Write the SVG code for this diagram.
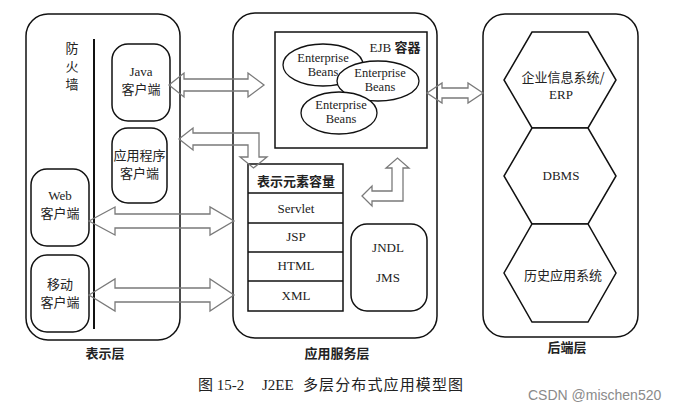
<svg xmlns="http://www.w3.org/2000/svg" width="693" height="411" viewBox="0 0 693 411">
<style>
.panel{fill:none;stroke:#111;stroke-width:1.5}
.box{fill:#fff;stroke:#111;stroke-width:1.5}
.ell{fill:#fff;stroke:#111;stroke-width:1.3}
.arr{fill:none;stroke:#7a7a7a;stroke-width:1.3;stroke-linejoin:miter}
.t{font-family:"Liberation Serif","Noto Sans CJK SC",serif;font-size:13px;fill:#222;text-anchor:middle}
.e{font-family:"Liberation Serif",serif;font-size:12.5px;fill:#222;text-anchor:middle}
.b{font-family:"Noto Sans CJK SC","Liberation Sans",sans-serif;font-size:13px;font-weight:bold;fill:#222;text-anchor:middle}
.c{font-family:"Noto Sans CJK SC","Liberation Sans",sans-serif;font-size:13px;fill:#222;text-anchor:middle}
</style>
<rect width="693" height="411" fill="#fff"/>

<g id="presentation-tier">
<rect class="panel" x="26" y="14" width="154" height="326" rx="22"/>
<text class="b" x="105" y="358">表示层</text>
</g>
<g id="firewall">
<line x1="94" y1="39" x2="94" y2="329" stroke="#111" stroke-width="2"/>
<text class="c" x="72" y="53">防</text>
<text class="c" x="72" y="71">火</text>
<text class="c" x="72" y="89">墙</text>
</g>
<g id="java-client">
<rect class="box" x="112" y="44" width="58" height="77" rx="16"/>
<text class="t" x="141" y="76">Java</text>
<text class="c" x="141" y="94">客户端</text>
</g>
<g id="app-client">
<rect class="box" x="112" y="128" width="55" height="75" rx="16"/>
<text class="c" x="139.5" y="160">应用程序</text>
<text class="c" x="139.5" y="178">客户端</text>
</g>
<g id="web-client">
<rect class="box" x="31" y="169" width="58" height="77" rx="16"/>
<text class="t" x="60" y="200">Web</text>
<text class="c" x="60" y="218">客户端</text>
</g>
<g id="mobile-client">
<rect class="box" x="31" y="255" width="58" height="77" rx="16"/>
<text class="c" x="60" y="289">移动</text>
<text class="c" x="60" y="307">客户端</text>
</g>

<g id="app-server-tier">
<rect class="panel" x="233" y="13" width="204" height="325" rx="22"/>
<text class="b" x="337" y="358">应用服务层</text>
</g>
<g id="ejb-container">
<rect class="box" x="275" y="32" width="152" height="116"/>
<text class="t" x="395" y="52">EJB <tspan style="font-family:'Noto Sans CJK SC',sans-serif;font-weight:bold">容器</tspan></text>
</g>
<g id="bean-1">
<ellipse class="ell" cx="323" cy="65" rx="40" ry="21"/>
<text class="e" x="323" y="62">Enterprise</text>
<text class="e" x="323" y="76">Beans</text>
</g>
<g id="bean-2">
<ellipse class="ell" cx="378" cy="81" rx="41" ry="20"/>
<text class="e" x="380" y="77">Enterprise</text>
<text class="e" x="380" y="91">Beans</text>
</g>
<g id="bean-3">
<ellipse class="ell" cx="339" cy="113" rx="38" ry="21"/>
<text class="e" x="341" y="109">Enterprise</text>
<text class="e" x="341" y="123">Beans</text>
</g>
<g id="presentation-container">
<rect class="box" x="248" y="164" width="95" height="147"/>
<line x1="248" y1="193" x2="343" y2="193" stroke="#111" stroke-width="1.3"/>
<line x1="248" y1="223" x2="343" y2="223" stroke="#111" stroke-width="1.3"/>
<line x1="248" y1="252" x2="343" y2="252" stroke="#111" stroke-width="1.3"/>
<line x1="248" y1="281" x2="343" y2="281" stroke="#111" stroke-width="1.3"/>
<text class="b" x="296" y="186">表示元素容量</text>
<text class="t" x="296" y="213">Servlet</text>
<text class="t" x="296" y="241">JSP</text>
<text class="t" x="296" y="270">HTML</text>
<text class="t" x="296" y="300">XML</text>
</g>
<g id="jndi-jms">
<rect class="box" x="351" y="224" width="76" height="87" rx="16"/>
<text class="t" x="388" y="252">JNDL</text>
<text class="t" x="388" y="282">JMS</text>
</g>

<g id="backend-tier">
<rect class="panel" x="483" y="14" width="155" height="323" rx="22"/>
<text class="b" x="567" y="352">后端层</text>
</g>
<g id="erp">
<polygon class="box" points="532,32 588,32 616,80 588,128 532,128 504,80"/>
<text class="c" x="563" y="82">企业信息系统/</text>
<text class="t" x="561" y="99">ERP</text>
</g>
<g id="dbms">
<polygon class="box" points="532,128 588,128 616,176 588,224 532,224 504,176"/>
<text class="t" x="561" y="180">DBMS</text>
</g>
<g id="legacy">
<polygon class="box" points="532,224 588,224 616,273 588,322 532,322 504,273"/>
<text class="c" x="563" y="280">历史应用系统</text>
</g>

<g id="connectors">
<polygon class="arr" points="169,85 184,73 184,79 248,79 248,73 264,85 248,97 248,91 184,91 184,97"/>
<polygon class="arr" points="179,139 193,128 193,133 259,133 259,157 267,157 253.5,168 240,157 248,157 248,145 193,145 193,150"/>
<polygon class="arr" points="89,221 115,207 115,214 210,214 210,207 234,221 210,235 210,228 115,228 115,235"/>
<polygon class="arr" points="89,295 115,279 115,288 210,288 210,279 234,295 210,311 210,302 115,302 115,311"/>
<polygon class="arr" points="362,196 372,186 372,191 392,191 392,168 386,168 397.5,158 409,168 403,168 403,201 372,201 372,206"/>
<polygon class="arr" points="427,93 442,83 442,88 468,88 468,83 483,93 468,103 468,98 442,98 442,103"/>
</g>

<g id="caption">
<text style="font-family:'Liberation Serif','Noto Sans CJK SC',serif;font-size:15px;fill:#222" x="198" y="390">图 15-2<tspan x="262">J2EE</tspan><tspan x="303" textLength="160">多层分布式应用模型图</tspan></text>
<text style="font-family:'Liberation Sans',sans-serif;font-size:14px;fill:#8a8a8a" x="528" y="400">CSDN @mischen520</text>
</g>
</svg>
